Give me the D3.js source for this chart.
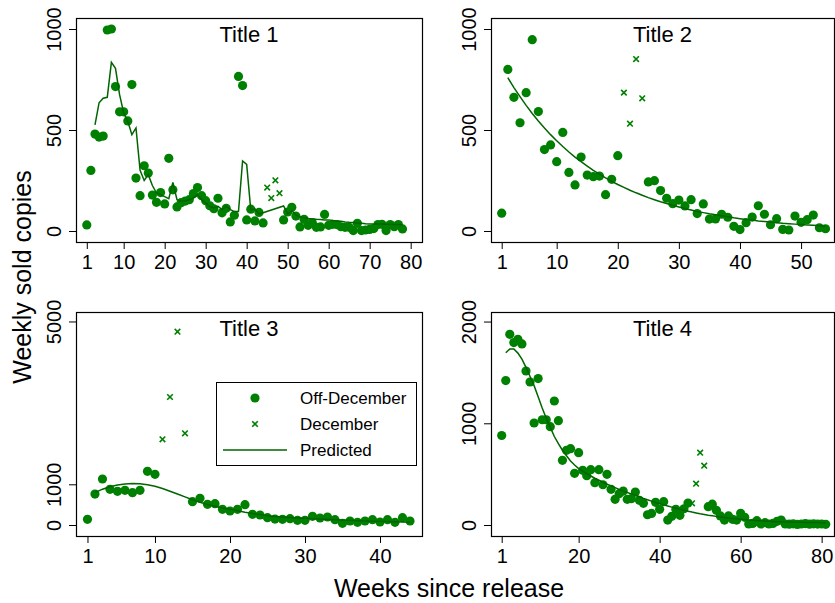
<!DOCTYPE html>
<html>
<head>
<meta charset="utf-8">
<script src="https://cdn.jsdelivr.net/npm/d3@7"></script>
<style>
body { margin: 0; background: #fff; }
text { font-family: "Liberation Sans", Arial, Helvetica, sans-serif; fill: #000; }
</style>
</head>
<body>
<div id="chart"></div>
<script>
var width = 835,
    height = 603,
    green = '#008000',
    lineGreen = '#006400'

// weekly sold copies, from week 1
var title1Sales = [30, 300, 480, 465, 470, 995, 1000, 715, 590, 590,
    545, 725, 262, 175, 323, 287, 178, 142, 190, 134,
    360, 204, 119, 140, 148, 155, 185, 215, 175, 150,
    125, 110, 162, 90, 112, 45, 78, 765, 720, 55,
    108, 50, 92, 40, 215, 163, 251, 187, 55, 94,
    117, 74, 20, 58, 28, 42, 18, 20, 82, 28,
    33, 32, 21, 18, 18, 2, 38, 2, 5, 8,
    12, 32, 33, 2, 32, 21, 32, 10]
var title1Dec = [45, 46, 47, 48]
var title1Pred = [525, 635, 657, 662, 835, 805, 675, 584, 543, 477,
    510, 300, 250, 279, 225, 188, 180, 170, 160, 240,
    155, 147, 150, 155, 163, 180, 155, 139, 122, 114,
    122, 106, 122, 106, 96, 96, 347, 330, 104, 110,
    84, 90, null, null, null, null, 124, 85, 100, 80,
    70, 65, 62, 60, 58, 57, 55, 55, 52, 50,
    48, 45, 43, 42, 40, 38, 36, 35, 35, 35,
    35, 33, 33, 32, 32, 30]

var title2Sales = [88, 800, 662, 536, 685, 947, 591, 403, 426, 343,
    488, 290, 228, 366, 277, 269, 272, 180, 256, 373,
    685, 531, 851, 657, 243, 249, 200, 162, 135, 153,
    124, 155, 86, 134, 59, 60, 83, 68, 23, 7,
    41, 69, 125, 83, 31, 61, 8, 5, 74, 43,
    56, 79, 16, 11]
var title2Dec = [21, 22, 23, 24]
var title2Pred = [759, 710, 665, 622, 582, 545, 510, 477, 447, 418,
    391, 366, 343, 321, 300, 281, 263, 246, 230, 216,
    202, 189, 177, 165, 155, 145, 136, 127, 119, 111,
    104, 97, 91, 85, 80, 75, 70, 65, 61, 57,
    54, 50, 47, 44, 41, 38, 36, 34, 32, 30,
    28, 26, 24]

var title3Sales = [140, 760, 1130, 877, 828, 852, 795, 852, 1319, 1245,
    2105, 3145, 4750, 2253, 573, 655, 508, 524, 385, 344,
    385, 500, 262, 246, 180, 147, 139, 156, 115, 115,
    213, 172, 197, 131, 41, 98, 66, 98, 131, 74,
    131, 66, 180, 98]
var title3Dec = [11, 12, 13, 14]
var title3Pred = [795, 880, 940, 985, 1010, 1020, 1015, 990, 950, 895,
    830, 760, 690, 620, 560, 505, 460, 420, 385, 350,
    315, 285, 255, 230, 210, 195, 185, 175, 165, 155,
    145, 138, 130, 122, 115, 107, 100, 95, 90, 85,
    80, 75, 70]

var title4Sales = [880, 1420, 1875, 1793, 1826, 1780, 1514, 1406, 1003, 1440,
    1035, 1035, 967, 1219, 1026, 636, 734, 750, 508, 711,
    538, 485, 544, 416, 544, 396, 498, 351, 253, 308,
    334, 253, 259, 324, 243, 213, 101, 114, 223, 154,
    229, 49, 85, 154, 95, 160, 216, 213, 406, 711,
    583, 180, 205, 144, 89, 49, 89, 56, 49, 115,
    76, 10, 16, 43, 10, 23, 10, 16, 36, 49,
    10, 8, 12, 6, 10, 14, 8, 12, 9, 10, 7]
var title4Dec = [48, 49, 50, 51]
var title4Pred = [1694, 1730, 1730, 1690, 1630, 1550, 1460, 1370, 1260, 1150,
    1050, 960, 870, 800, 735, 680, 630, 590, 555, 530,
    505, 482, 460, 440, 420, 402, 385, 368, 350, 335,
    320, 306, 293, 278, 262, 248, 235, 222, 210, 198,
    187, 176, 165, 155, 145, 136, 127, 119, 111, 104,
    97, 91, 85, 79, 74, 69, 65, 61, 57, 53,
    50, 47, 44, 41, 39, 37, 35, 33, 31, 30,
    29, 28, 27, 26, 25, 25, 24, 24, 23, 23]

var titles = ['Title 1', 'Title 2', 'Title 3', 'Title 4']
var legendLabels = ['Off-December', 'December', 'Predicted']

var panels = [
    { title: titles[0], sales: title1Sales, dec: title1Dec, pred: title1Pred, predStart: 3,
      xTicks: [1, 10, 20, 30, 40, 50, 60, 70, 80], yTicks: [0, 500, 1000],
      left: 76, top: 18, w: 346, h: 224, xDomain: [-1.63, 82.76], yDomain: [-54.5, 1054.5] },
    { title: titles[1], sales: title2Sales, dec: title2Dec, pred: title2Pred, predStart: 2,
      xTicks: [1, 10, 20, 30, 40, 50], yTicks: [0, 500, 1000],
      left: 491, top: 18, w: 343, h: 224, xDomain: [-0.75, 55.39], yDomain: [-54.5, 1054.5] },
    { title: titles[2], sales: title3Sales, dec: title3Dec, pred: title3Pred, predStart: 2,
      xTicks: [1, 10, 20, 30, 40], yTicks: [0, 1000, 5000],
      left: 76, top: 312, w: 346, h: 224, xDomain: [-0.53, 45.6], yDomain: [-270, 5233] },
    { title: titles[3], sales: title4Sales, dec: title4Dec, pred: title4Pred, predStart: 2,
      xTicks: [1, 20, 40, 60, 80], yTicks: [0, 1000, 2000],
      left: 491, top: 312, w: 343, h: 224, xDomain: [-1.64, 83.05], yDomain: [-108, 2094] }
]

var svg = d3.select('#chart').append('svg')
    .attr('width', width)
    .attr('height', height)

function crossPath(size) {
    return 'M' + (-size) + ',' + (-size) + 'L' + size + ',' + size +
        'M' + (-size) + ',' + size + 'L' + size + ',' + (-size)
}

panels.forEach(function(p) {
    var x = d3.scaleLinear().domain(p.xDomain).range([p.left, p.left + p.w])
    var y = d3.scaleLinear().domain(p.yDomain).range([p.top + p.h, p.top])
    var g = svg.append('g')

    var pts = p.sales.map(function(v, i) {
        return { week: i + 1, value: v, dec: p.dec.indexOf(i + 1) >= 0 }
    })
    var predPts = p.pred.map(function(v, i) {
        return { week: p.predStart + i, value: v }
    }).filter(function(d) { return d.value != null })

    // x axis
    var xAxis = g.append('g')
        .attr('transform', 'translate(0,' + (p.top + p.h) + ')')
        .call(d3.axisBottom(x).tickValues(p.xTicks).tickFormat(d3.format('d')).tickSize(7).tickSizeOuter(0))
    xAxis.select('.domain').remove()
    xAxis.selectAll('line').attr('stroke', '#000')
    xAxis.selectAll('text')
        .attr('y', 27).attr('dy', 0)
        .style('font-size', '20px')

    // y axis, labels turned
    var yAxis = g.append('g')
        .attr('transform', 'translate(' + p.left + ',0)')
        .call(d3.axisLeft(y).tickValues(p.yTicks).tickFormat(d3.format('d')).tickSize(7).tickSizeOuter(0))
    yAxis.select('.domain').remove()
    yAxis.selectAll('line').attr('stroke', '#000')
    yAxis.selectAll('text')
        .attr('x', 0).attr('y', -15).attr('dy', 0)
        .attr('transform', 'rotate(-90)')
        .attr('text-anchor', 'middle')
        .style('font-size', '20px')

    g.append('rect')
        .attr('x', p.left + 0.5)
        .attr('y', p.top + 0.5)
        .attr('width', p.w)
        .attr('height', p.h)
        .attr('fill', 'none')
        .attr('stroke', '#000')
        .attr('stroke-width', 1.2)

    g.selectAll('circle.off').data(pts.filter(function(d) { return !d.dec }))
        .enter().append('circle')
            .attr('class', 'off')
            .attr('cx', function(d) { return x(d.week) })
            .attr('cy', function(d) { return y(d.value) })
            .attr('r', 4.6)
            .attr('fill', green)

    g.selectAll('path.dec').data(pts.filter(function(d) { return d.dec }))
        .enter().append('path')
            .attr('class', 'dec')
            .attr('d', crossPath(2.8))
            .attr('transform', function(d) { return 'translate(' + x(d.week) + ',' + y(d.value) + ')' })
            .attr('stroke', green)
            .attr('stroke-width', 1.6)
            .attr('fill', 'none')

    var line = d3.line()
        .x(function(d) { return x(d.week) })
        .y(function(d) { return y(d.value) })

    g.append('path')
        .datum(predPts)
        .attr('d', line)
        .attr('fill', 'none')
        .attr('stroke', lineGreen)
        .attr('stroke-width', 1.5)

    g.append('text')
        .attr('x', p.left + p.w / 2)
        .attr('y', p.top + 24)
        .attr('text-anchor', 'middle')
        .style('font-size', '22px')
        .text(p.title)
})

// legend inside Title 3
var legend = svg.append('g')
legend.append('rect')
    .attr('x', 216.5).attr('y', 382.5)
    .attr('width', 200).attr('height', 83)
    .attr('fill', '#fff')
    .attr('stroke', '#000')
legend.append('circle')
    .attr('cx', 255).attr('cy', 398).attr('r', 4.6)
    .attr('fill', green)
legend.append('path')
    .attr('d', crossPath(2.8))
    .attr('transform', 'translate(255,424)')
    .attr('stroke', green).attr('stroke-width', 1.6)
legend.append('line')
    .attr('x1', 223).attr('x2', 287).attr('y1', 450).attr('y2', 450)
    .attr('stroke', lineGreen).attr('stroke-width', 1.5)
legend.selectAll('text.lab').data(legendLabels)
    .enter().append('text')
        .attr('class', 'lab')
        .attr('x', 300)
        .attr('y', function(d, i) { return 404 + i * 26 })
        .style('font-size', '17px')
        .text(function(d) { return d })

svg.append('text')
    .attr('x', 449).attr('y', 597)
    .attr('text-anchor', 'middle')
    .style('font-size', '25px')
    .text('Weeks since release')

svg.append('text')
    .attr('transform', 'translate(31,277) rotate(-90)')
    .attr('text-anchor', 'middle')
    .style('font-size', '25px')
    .text('Weekly sold copies')
</script>
</body>
</html>
